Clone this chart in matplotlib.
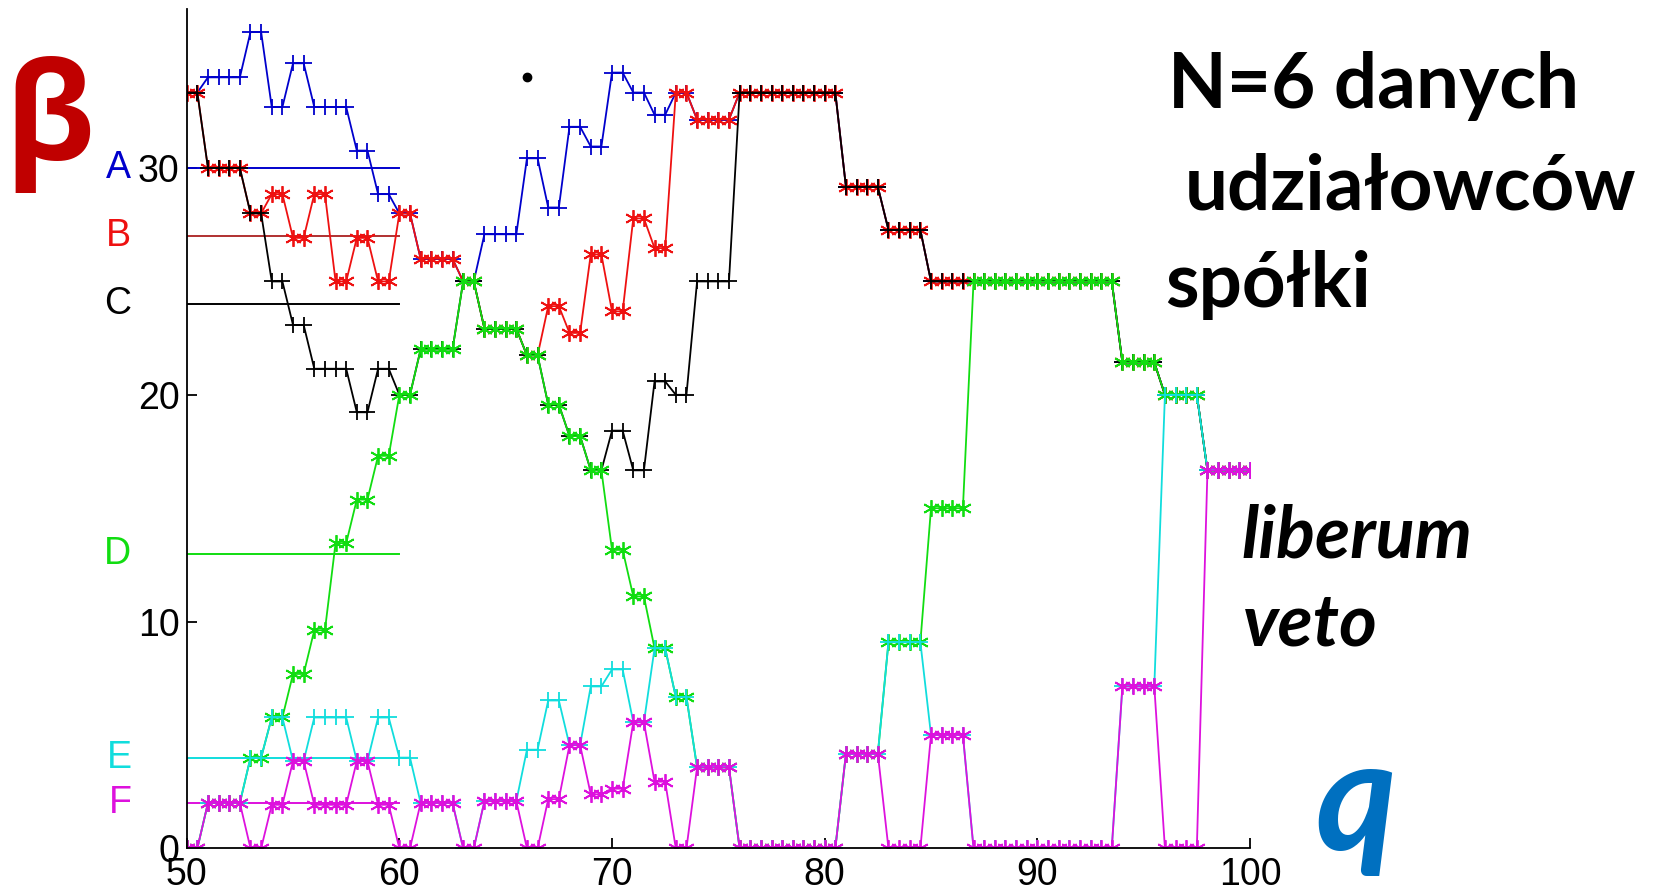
import numpy as np
import matplotlib
matplotlib.use("Agg")
import matplotlib.pyplot as plt

# kwota q (co 0.5) i znormalizowany indeks Banzhafa (%) dla 6 udzialowcow
q = np.arange(50, 100.5, 0.5)

beta_A = [33.33, 33.33, 34, 34, 34, 34, 36, 36, 32.69, 32.69,
          34.62, 34.62, 32.69, 32.69, 32.69, 32.69, 30.77, 30.77, 28.85, 28.85,
          28, 28, 26, 26, 26, 26, 25, 25, 27.08, 27.08,
          27.08, 27.08, 30.43, 30.43, 28.26, 28.26, 31.82, 31.82, 30.95, 30.95,
          34.21, 34.21, 33.33, 33.33, 32.35, 32.35, 33.33, 33.33, 32.14, 32.14,
          32.14, 32.14, 33.33, 33.33, 33.33, 33.33, 33.33, 33.33, 33.33, 33.33,
          33.33, 33.33, 29.17, 29.17, 29.17, 29.17, 27.27, 27.27, 27.27, 27.27,
          25, 25, 25, 25, 25, 25, 25, 25, 25, 25,
          25, 25, 25, 25, 25, 25, 25, 25, 21.43, 21.43,
          21.43, 21.43, 20, 20, 20, 20, 16.67, 16.67, 16.67, 16.67,
          16.67]
beta_B = [33.33, 33.33, 30, 30, 30, 30, 28, 28, 28.85, 28.85,
          26.92, 26.92, 28.85, 28.85, 25, 25, 26.92, 26.92, 25, 25,
          28, 28, 26, 26, 26, 26, 25, 25, 22.92, 22.92,
          22.92, 22.92, 21.74, 21.74, 23.91, 23.91, 22.73, 22.73, 26.19, 26.19,
          23.68, 23.68, 27.78, 27.78, 26.47, 26.47, 33.33, 33.33, 32.14, 32.14,
          32.14, 32.14, 33.33, 33.33, 33.33, 33.33, 33.33, 33.33, 33.33, 33.33,
          33.33, 33.33, 29.17, 29.17, 29.17, 29.17, 27.27, 27.27, 27.27, 27.27,
          25, 25, 25, 25, 25, 25, 25, 25, 25, 25,
          25, 25, 25, 25, 25, 25, 25, 25, 21.43, 21.43,
          21.43, 21.43, 20, 20, 20, 20, 16.67, 16.67, 16.67, 16.67,
          16.67]
beta_C = [33.33, 33.33, 30, 30, 30, 30, 28, 28, 25, 25,
          23.08, 23.08, 21.15, 21.15, 21.15, 21.15, 19.23, 19.23, 21.15, 21.15,
          20, 20, 22, 22, 22, 22, 25, 25, 22.92, 22.92,
          22.92, 22.92, 21.74, 21.74, 19.57, 19.57, 18.18, 18.18, 16.67, 16.67,
          18.42, 18.42, 16.67, 16.67, 20.59, 20.59, 20, 20, 25, 25,
          25, 25, 33.33, 33.33, 33.33, 33.33, 33.33, 33.33, 33.33, 33.33,
          33.33, 33.33, 29.17, 29.17, 29.17, 29.17, 27.27, 27.27, 27.27, 27.27,
          25, 25, 25, 25, 25, 25, 25, 25, 25, 25,
          25, 25, 25, 25, 25, 25, 25, 25, 21.43, 21.43,
          21.43, 21.43, 20, 20, 20, 20, 16.67, 16.67, 16.67, 16.67,
          16.67]
beta_D = [0, 0, 2, 2, 2, 2, 4, 4, 5.77, 5.77,
          7.69, 7.69, 9.62, 9.62, 13.46, 13.46, 15.38, 15.38, 17.31, 17.31,
          20, 20, 22, 22, 22, 22, 25, 25, 22.92, 22.92,
          22.92, 22.92, 21.74, 21.74, 19.57, 19.57, 18.18, 18.18, 16.67, 16.67,
          13.16, 13.16, 11.11, 11.11, 8.82, 8.82, 6.67, 6.67, 3.57, 3.57,
          3.57, 3.57, 0, 0, 0, 0, 0, 0, 0, 0,
          0, 0, 4.17, 4.17, 4.17, 4.17, 9.09, 9.09, 9.09, 9.09,
          15, 15, 15, 15, 25, 25, 25, 25, 25, 25,
          25, 25, 25, 25, 25, 25, 25, 25, 21.43, 21.43,
          21.43, 21.43, 20, 20, 20, 20, 16.67, 16.67, 16.67, 16.67,
          16.67]
beta_E = [0, 0, 2, 2, 2, 2, 4, 4, 5.77, 5.77,
          3.85, 3.85, 5.77, 5.77, 5.77, 5.77, 3.85, 3.85, 5.77, 5.77,
          4, 4, 2, 2, 2, 2, 0, 0, 2.08, 2.08,
          2.08, 2.08, 4.35, 4.35, 6.52, 6.52, 4.55, 4.55, 7.14, 7.14,
          7.89, 7.89, 5.56, 5.56, 8.82, 8.82, 6.67, 6.67, 3.57, 3.57,
          3.57, 3.57, 0, 0, 0, 0, 0, 0, 0, 0,
          0, 0, 4.17, 4.17, 4.17, 4.17, 9.09, 9.09, 9.09, 9.09,
          5, 5, 5, 5, 0, 0, 0, 0, 0, 0,
          0, 0, 0, 0, 0, 0, 0, 0, 7.14, 7.14,
          7.14, 7.14, 20, 20, 20, 20, 16.67, 16.67, 16.67, 16.67,
          16.67]
beta_F = [0, 0, 2, 2, 2, 2, 0, 0, 1.92, 1.92,
          3.85, 3.85, 1.92, 1.92, 1.92, 1.92, 3.85, 3.85, 1.92, 1.92,
          0, 0, 2, 2, 2, 2, 0, 0, 2.08, 2.08,
          2.08, 2.08, 0, 0, 2.17, 2.17, 4.55, 4.55, 2.38, 2.38,
          2.63, 2.63, 5.56, 5.56, 2.94, 2.94, 0, 0, 3.57, 3.57,
          3.57, 3.57, 0, 0, 0, 0, 0, 0, 0, 0,
          0, 0, 4.17, 4.17, 4.17, 4.17, 0, 0, 0, 0,
          5, 5, 5, 5, 0, 0, 0, 0, 0, 0,
          0, 0, 0, 0, 0, 0, 0, 0, 7.14, 7.14,
          7.14, 7.14, 0, 0, 0, 0, 16.67, 16.67, 16.67, 16.67,
          16.67]

names = ["A", "B", "C", "D", "E", "F"]
weights = [30, 27, 24, 13, 4, 2]  # udzialy (%)
colors = ["#0000cc", "#ee1111", "#000000", "#11dd11", "#11dddd", "#dd11dd"]
line_colors = ["#0000cc", "#b03030", "#000000", "#11dd11", "#11dddd", "#dd11dd"]
markers = ["+", (6, 2, 0), "+", (6, 2, 0), "+", (6, 2, 0)]
series = [beta_A, beta_B, beta_C, beta_D, beta_E, beta_F]

fig = plt.figure(figsize=(16.64, 8.96), dpi=100)
ax = fig.add_axes([0.1122, 0.0532, 0.6390, 0.9364])

# poziome linie udzialow
for w, c in zip(weights, line_colors):
    ax.plot([50, 60], [w, w], color=c, lw=1.4)

for vals, c, m in zip(series, colors, markers):
    ax.plot(q, vals, color=c, lw=1.3, marker=m, markersize=12, markeredgewidth=1.3)

ax.plot([66], [34], "o", color="black", markersize=6)

# etykiety udzialowcow po lewej stronie osi
for name, w, c in zip(names, weights, colors):
    ax.text(47.4, w, name, color=c, fontsize=27, family="Liberation Sans",
            ha="right", va="center", clip_on=False)

ax.set_xlim(50, 100)
ax.set_ylim(0, 37)
ax.set_xticks([50, 60, 70, 80, 90, 100])
ax.set_yticks([0, 10, 20, 30])
ax.spines["top"].set_visible(False)
ax.spines["right"].set_visible(False)
for s in ["left", "bottom"]:
    ax.spines[s].set_linewidth(1.3)
ax.tick_params(direction="in", length=7, width=1.3, labelsize=27)
ax.tick_params(axis="x", pad=6)
ax.tick_params(axis="y", pad=5)
for lab in ax.get_xticklabels() + ax.get_yticklabels():
    lab.set_family("Liberation Sans")

W, H = 1664.0, 896.0
fig.text(4 / W, 1 - 160 / H, "β", color="#c00000", fontsize=98, fontweight="bold",
         family=["Open Sans", "DejaVu Sans"], ha="left", va="baseline")
fig.text(1168 / W, 1 - 108 / H, "N=6 danych", fontsize=55, fontweight="bold",
         family=["Lato", "DejaVu Sans"], ha="left", va="baseline")
fig.text(1185 / W, 1 - 210 / H, "udziałowców", fontsize=55, fontweight="bold",
         family=["Lato", "DejaVu Sans"], ha="left", va="baseline")
fig.text(1165 / W, 1 - 307 / H, "spółki", fontsize=55, fontweight="bold",
         family=["Lato", "DejaVu Sans"], ha="left", va="baseline")
fig.text(1241 / W, 1 - 557 / H, "liberum", fontsize=52, fontweight="bold", style="italic",
         family=["Lato", "DejaVu Sans"], ha="left", va="baseline")
fig.text(1243 / W, 1 - 645 / H, "veto", fontsize=52, fontweight="bold", style="italic",
         family=["Lato", "DejaVu Sans"], ha="left", va="baseline")
fig.text(1315 / W, 1 - 850 / H, "q", color="#0070c0", fontsize=112, fontweight="bold",
         style="italic", family=["Lato", "DejaVu Sans"], ha="left", va="baseline")

fig.savefig("out.png", dpi=100)
